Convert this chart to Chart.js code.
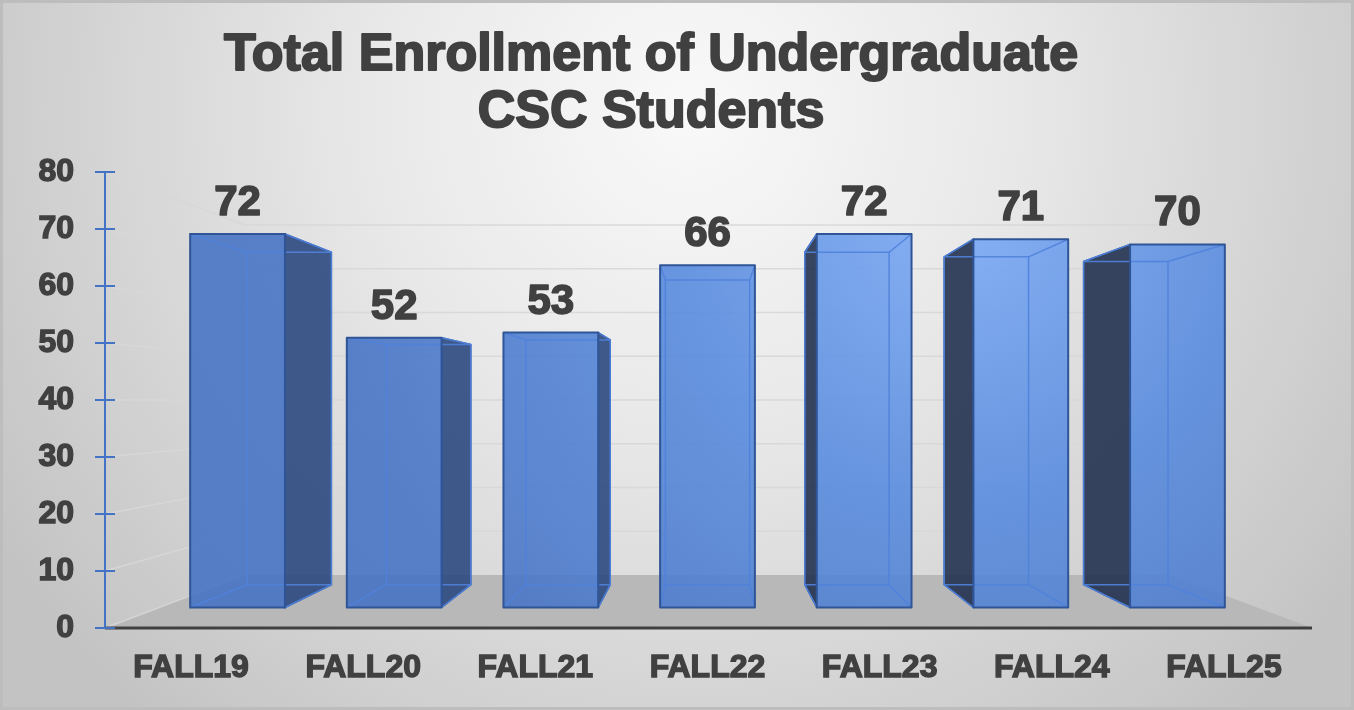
<!DOCTYPE html>
<html>
<head>
<meta charset="utf-8">
<script src="https://cdn.jsdelivr.net/npm/chart.js@4.4.1/dist/chart.umd.min.js"></script>
<style>
  html, body { margin: 0; padding: 0; background: #ffffff; }
  #wrap { width: 1354px; height: 710px; }
</style>
</head>
<body>
<div id="wrap"><canvas id="enrollChart" width="1354" height="710"></canvas></div>
<script>
// chart data
const terms = ["FALL19", "FALL20", "FALL21", "FALL22", "FALL23", "FALL24", "FALL25"];
const enrollment = [72, 52, 53, 66, 72, 71, 70];
const titleLines = ["Total Enrollment of Undergraduate", "CSC Students"];
const yMin = 0;
const yMax = 80;
const yStep = 10;

const FONT = "'Liberation Sans', Arial, sans-serif";
const TEXT = "#404040";

// perspective: front face and back face are pulled toward a vanishing point
const K_FRONT = 0.09;
const K_BACK = 0.19;
const K_WALL = 0.232;

function vanish(area) {
  return { x: (area.left + area.right) / 2, y: (area.top + area.bottom) / 2 };
}
function proj(vp, px, py, k) {
  return [px + k * (vp.x - px), py + k * (vp.y - py)];
}
function poly(ctx, pts) {
  ctx.beginPath();
  ctx.moveTo(pts[0][0], pts[0][1]);
  for (let i = 1; i < pts.length; i++) ctx.lineTo(pts[i][0], pts[i][1]);
  ctx.closePath();
}
function heavyText(ctx, str, x, y, w) {
  ctx.lineJoin = "round";
  ctx.lineWidth = w;
  ctx.strokeStyle = TEXT;
  ctx.strokeText(str, x, y);
  ctx.fillText(str, x, y);
}

const backdrop = {
  id: "backdrop",
  beforeDraw(chart) {
    const { ctx, width, height } = chart;
    ctx.save();
    const g = ctx.createRadialGradient(690, 110, 0, 690, 110, 820);
    g.addColorStop(0, "#f9f9f9");
    g.addColorStop(0.4, "#e8e8e8");
    g.addColorStop(1, "#c3c3c3");
    ctx.fillStyle = g;
    ctx.fillRect(0, 0, width, height);
    ctx.strokeStyle = "#bdbdbd";
    ctx.lineWidth = 3;
    ctx.strokeRect(1.5, 1.5, width - 3, height - 3);

    // title
    ctx.fillStyle = TEXT;
    ctx.font = "bold 52px " + FONT;
    ctx.textAlign = "center";
    ctx.textBaseline = "alphabetic";
    heavyText(ctx, titleLines[0], 651, 70, 2);
    heavyText(ctx, titleLines[1], 651, 127, 2);
    ctx.restore();
  },
  beforeDatasetsDraw(chart) {
    const { ctx, chartArea: a, scales } = chart;
    const vp = vanish(a);
    ctx.save();

    // floor
    const bl = proj(vp, a.left, a.bottom, K_WALL);
    const br = proj(vp, a.right, a.bottom, K_WALL);
    poly(ctx, [[a.left, a.bottom], [a.right + 2, a.bottom], br, bl]);
    ctx.fillStyle = "#b8b8b8";
    ctx.fill();

    // gridlines on side wall and back wall
    ctx.strokeStyle = "rgba(215,215,215,0.9)";
    ctx.lineWidth = 1.5;
    for (let v = yMin; v <= yMax; v += yStep) {
      const y = scales.y.getPixelForValue(v);
      const p = proj(vp, a.left, y, K_WALL);
      const q = proj(vp, a.right, y, K_WALL);
      ctx.beginPath();
      ctx.moveTo(a.left, y);
      ctx.lineTo(p[0], p[1]);
      if (v > yMin) ctx.lineTo(q[0], q[1]);
      ctx.stroke();
    }

    // x axis line
    ctx.strokeStyle = "#404040";
    ctx.lineWidth = 3;
    ctx.beginPath();
    ctx.moveTo(a.left, a.bottom);
    ctx.lineTo(a.right + 2, a.bottom);
    ctx.stroke();

    // y axis with tick marks
    ctx.strokeStyle = "#4472c4";
    ctx.lineWidth = 2;
    ctx.beginPath();
    ctx.moveTo(a.left, a.top);
    ctx.lineTo(a.left, a.bottom);
    for (let v = yMin; v <= yMax; v += yStep) {
      const y = scales.y.getPixelForValue(v);
      ctx.moveTo(a.left - 10, y);
      ctx.lineTo(a.left + 10, y);
    }
    ctx.stroke();
    ctx.restore();
  }
};

const bars3d = {
  id: "bars3d",
  afterDatasetsDraw(chart) {
    const { ctx, chartArea: a } = chart;
    const vp = vanish(a);
    const meta = chart.getDatasetMeta(0);
    ctx.save();
    const shine = ctx.createRadialGradient(960, 220, 0, 960, 220, 620);
    shine.addColorStop(0, "rgba(126,172,246,0.92)");
    shine.addColorStop(0.45, "rgba(90,140,222,0.9)");
    shine.addColorStop(1, "rgba(68,114,196,0.88)");

    meta.data.forEach((bar, i) => {
      const p = bar.getProps(["x", "y", "base", "width"], true);
      const L = p.x - p.width / 2, R = p.x + p.width / 2, T = p.y, B = p.base;
      const f = [proj(vp, L, T, K_FRONT), proj(vp, R, T, K_FRONT), proj(vp, R, B, K_FRONT), proj(vp, L, B, K_FRONT)];
      const b = [proj(vp, L, T, K_BACK), proj(vp, R, T, K_BACK), proj(vp, R, B, K_BACK), proj(vp, L, B, K_BACK)];

      // side face
      ctx.lineWidth = 1.5;
      ctx.strokeStyle = "#2f5597";
      if (f[1][0] < vp.x - 2) {
        poly(ctx, [f[1], b[1], b[2], f[2]]);
        ctx.fillStyle = "rgba(44,74,128,0.9)";
        ctx.fill();
        ctx.stroke();
      } else if (f[0][0] > vp.x + 2) {
        poly(ctx, [f[0], b[0], b[3], f[3]]);
        ctx.fillStyle = "rgba(36,50,80,0.9)";
        ctx.fill();
        ctx.stroke();
      }

      // front face
      poly(ctx, f);
      ctx.fillStyle = shine;
      ctx.fill();

      // inner (back) edges seen through the front
      ctx.strokeStyle = "rgba(80,130,220,0.9)";
      ctx.lineWidth = 1.5;
      poly(ctx, b);
      ctx.stroke();
      ctx.beginPath();
      for (let c = 0; c < 4; c++) {
        ctx.moveTo(f[c][0], f[c][1]);
        ctx.lineTo(b[c][0], b[c][1]);
      }
      ctx.stroke();

      ctx.strokeStyle = "#2f5597";
      ctx.lineWidth = 2;
      poly(ctx, f);
      ctx.stroke();

      // value label
      ctx.fillStyle = TEXT;
      ctx.font = "bold 42px " + FONT;
      ctx.textAlign = "center";
      ctx.textBaseline = "alphabetic";
      heavyText(ctx, String(enrollment[i]), (f[0][0] + f[1][0]) / 2, f[0][1] - 19, 1.6);
    });
    ctx.restore();
  }
};

new Chart(document.getElementById("enrollChart"), {
  type: "bar",
  data: {
    labels: terms,
    datasets: [
      {
        label: "Enrollment",
        data: enrollment,
        backgroundColor: "rgba(0,0,0,0)",
        borderWidth: 0,
        categoryPercentage: 1,
        barPercentage: 0.605,
      },
    ],
  },
  options: {
    responsive: false,
    animation: false,
    devicePixelRatio: 1,
    layout: { padding: { top: 172, right: 44, bottom: 0, left: 0 } },
    plugins: {
      legend: { display: false },
      title: { display: false },
      tooltip: { enabled: false },
    },
    scales: {
      x: {
        grid: { display: false, drawTicks: false },
        border: { display: false },
        ticks: {
          color: TEXT, padding: 21, textStrokeColor: TEXT, textStrokeWidth: 1.4,
          font: { family: FONT, size: 32, weight: "bold" },
        },
        afterFit: (s) => { s.height = 82; },
      },
      y: {
        min: yMin,
        max: yMax,
        grid: { display: false, drawTicks: false },
        border: { display: false },
        ticks: {
          stepSize: yStep, color: TEXT, padding: 31, textStrokeColor: TEXT, textStrokeWidth: 1.4,
          font: { family: FONT, size: 32, weight: "bold" },
        },
        afterFit: (s) => { s.width = 105; },
      },
    },
  },
  plugins: [backdrop, bars3d],
});
</script>
</body>
</html>
